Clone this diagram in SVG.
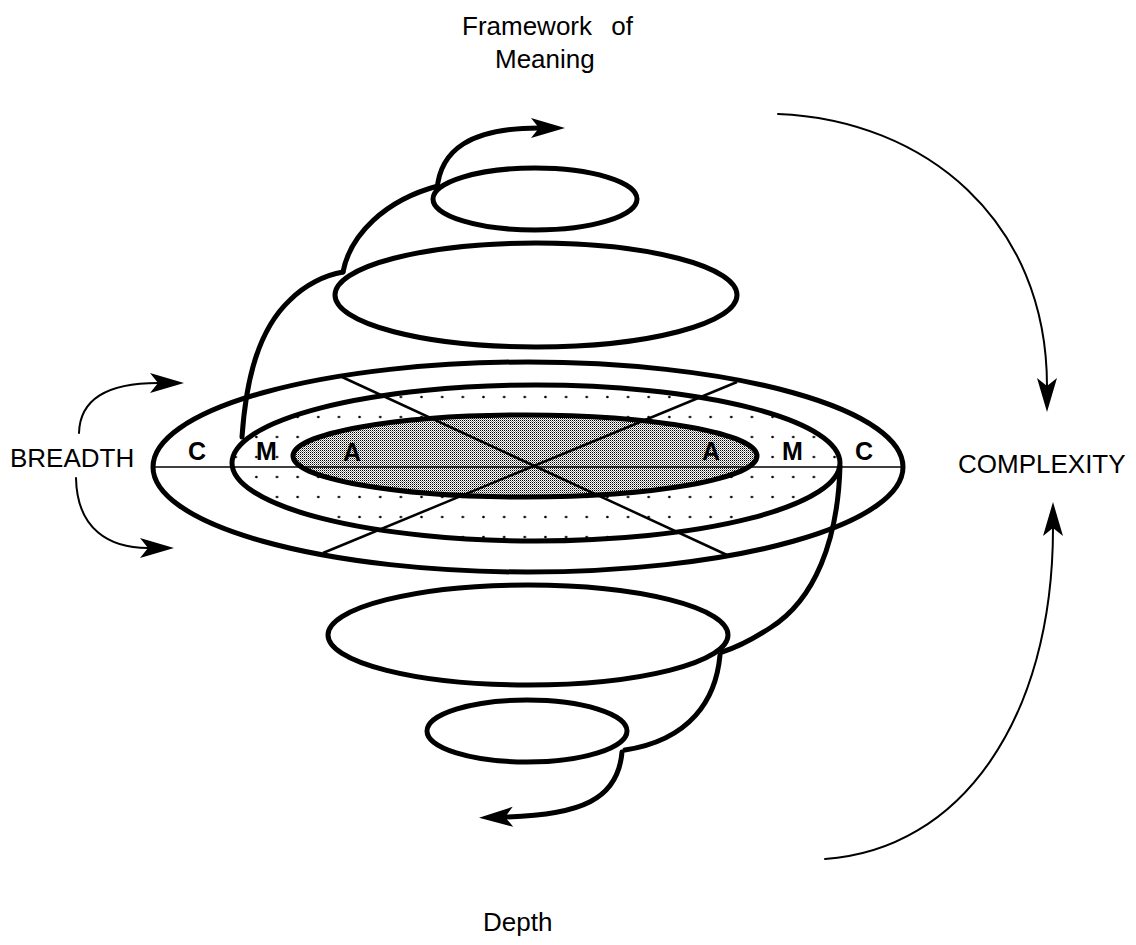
<svg xmlns="http://www.w3.org/2000/svg" width="1136" height="945" viewBox="0 0 1136 945">
<style>
.thick{fill:none;stroke:#000;stroke-width:5;stroke-linecap:round}
.thin{fill:none;stroke:#000;stroke-width:2;stroke-linecap:round}
.lbl{font-family:"Liberation Sans",Arial,sans-serif;font-size:26px;fill:#000}
.let{font-family:"Liberation Sans",Arial,sans-serif;font-size:25px;font-weight:bold;fill:#000}
</style>
<defs>
<marker id="ah" markerUnits="userSpaceOnUse" viewBox="-10 -12 38 24" refX="0" refY="0" markerWidth="38" markerHeight="24" orient="auto">
<path d="M0,0 L-8,-10 L26,0 L-8,10 Z" fill="#000"/>
</marker>
<pattern id="dots" patternUnits="userSpaceOnUse" x="308" y="387" width="20.65" height="20">
<circle cx="10.3" cy="10" r="1.3" fill="#000"/>
</pattern>
<pattern id="grey" patternUnits="userSpaceOnUse" width="2" height="2">
<rect width="2" height="2" fill="#fff"/>
<rect width="1" height="1" fill="#000"/>
<rect x="1" y="1" width="1" height="1" fill="#888"/>
</pattern>
</defs>
<rect width="1136" height="945" fill="#fff"/>

<g id="disc">
<ellipse id="ring-c" cx="528" cy="467" rx="375" ry="105" fill="#fff" stroke="#000" stroke-width="5"/>
<ellipse id="ring-m" cx="536" cy="463" rx="304" ry="78" fill="url(#dots)" stroke="#000" stroke-width="5"/>
<ellipse id="core-a" cx="525" cy="456" rx="232" ry="41" fill="url(#grey)" stroke="#000" stroke-width="5"/>
<line x1="153" y1="467" x2="903" y2="467" stroke="#000" stroke-width="1.6"/>
<line x1="342" y1="377" x2="727" y2="555" stroke="#000" stroke-width="2.5"/>
<line x1="323" y1="553" x2="737" y2="382" stroke="#000" stroke-width="2.5"/>
<text class="let" x="188" y="460">C</text>
<text class="let" x="256" y="460">M</text>
<text class="let" x="343" y="461">A</text>
<text class="let" x="702" y="460">A</text>
<text class="let" x="782" y="460">M</text>
<text class="let" x="855" y="460">C</text>
</g>

<g id="level-top-small"><ellipse class="thick" cx="535" cy="199" rx="102" ry="31"/></g>
<g id="level-top-large"><ellipse class="thick" cx="536" cy="295" rx="201" ry="52"/></g>
<g id="level-bottom-large"><ellipse class="thick" cx="528" cy="635" rx="200" ry="50"/></g>
<g id="level-bottom-small"><ellipse class="thick" cx="527" cy="731" rx="100" ry="31"/></g>

<g id="connectors">
<path class="thick" d="M242,437 C246,380 258,330 290,300 C305,285 325,275 343,272"/>
<path class="thick" d="M343,272 C350,235 385,200 438,186"/>
<path class="thick" d="M437,190 C440,150 470,128 539,128" marker-end="url(#ah)"/>
<path class="thick" d="M840,466 C838,540 815,600 770,628 C750,641 735,648 722,652"/>
<path class="thick" d="M720,655 C716,700 690,740 625,750"/>
<path class="thick" d="M622,752 C618,800 580,815 505,817" marker-end="url(#ah)"/>
<path class="thin" d="M79,433 C80,398 110,383 158,383" marker-end="url(#ah)"/>
<path class="thin" d="M76,478 C77,530 110,548 148,548" marker-end="url(#ah)"/>
<path class="thin" d="M778,114 C925,120 1047,220 1047,386" marker-end="url(#ah)"/>
<path class="thin" d="M825,859 C960,850 1053,720 1053,528" marker-end="url(#ah)"/>
</g>

<g id="labels">
<text class="lbl" x="462" y="35" word-spacing="12">Framework of</text>
<text class="lbl" x="495" y="68">Meaning</text>
<text class="lbl" x="10" y="467">BREADTH</text>
<text class="lbl" x="958" y="473">COMPLEXITY</text>
<text class="lbl" x="483" y="931">Depth</text>
</g>
</svg>
